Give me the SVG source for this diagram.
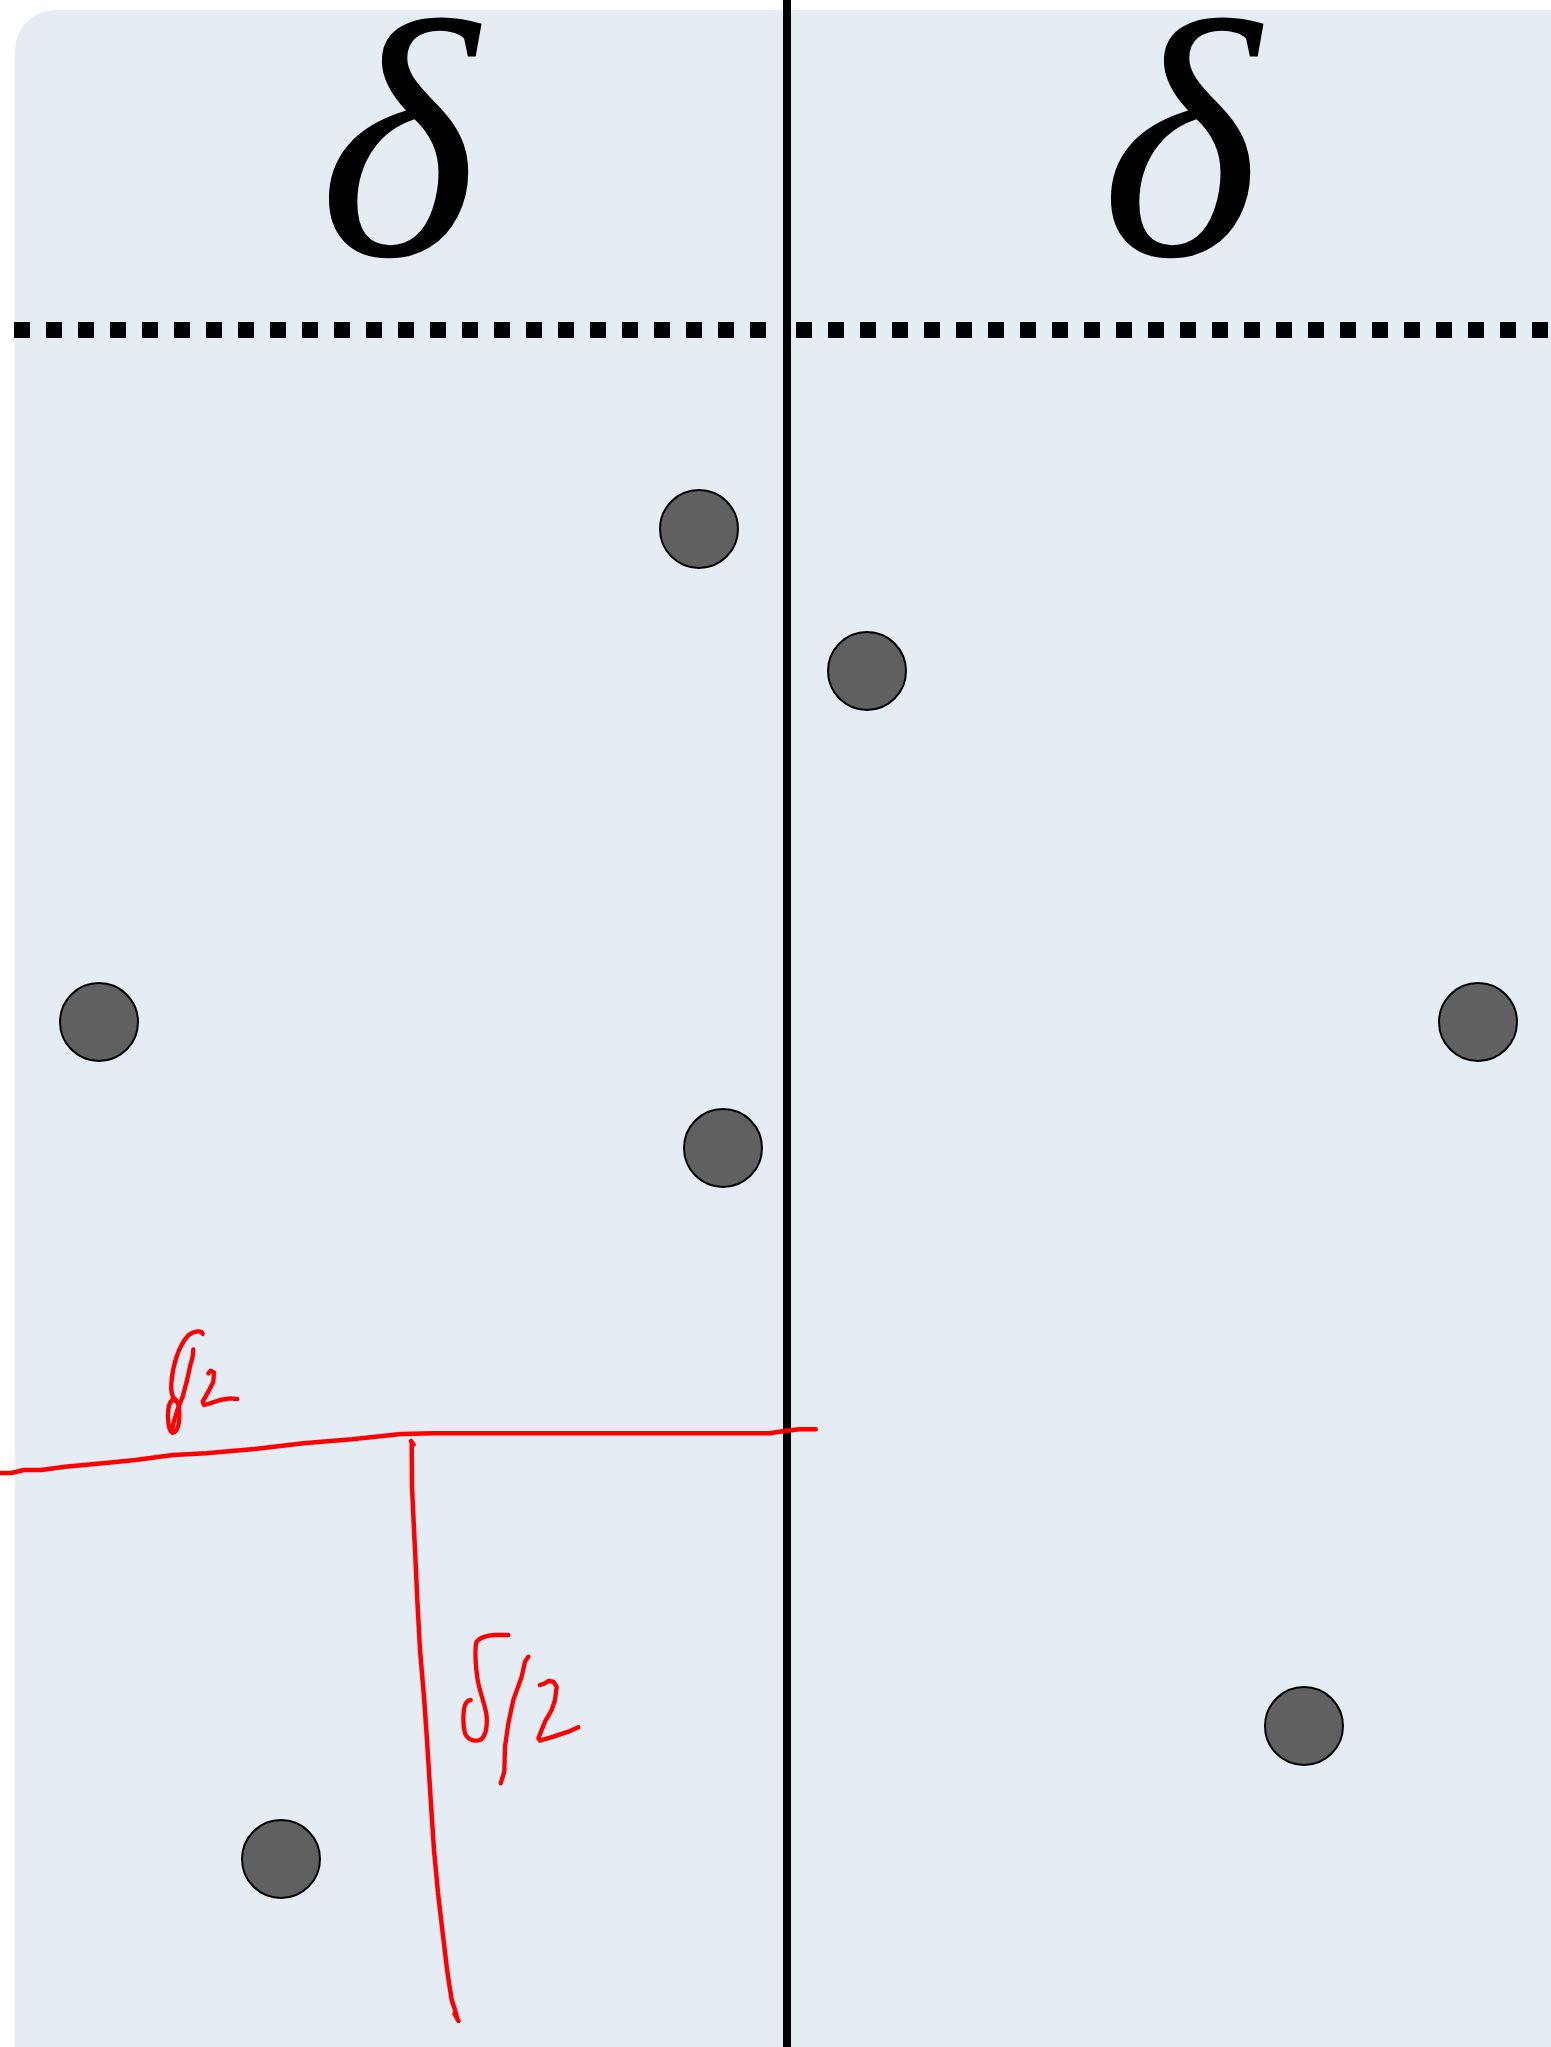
<svg xmlns="http://www.w3.org/2000/svg" width="1551" height="2047" viewBox="0 0 1551 2047">
<style>
.bg{fill:#e5ecf3}
.dot{fill:#606060;stroke:#000;stroke-width:2}
.dash{stroke:#000;stroke-width:16;stroke-dasharray:16 16;fill:none}
.delta{font-family:"Liberation Serif",serif;font-style:italic;font-size:340px;fill:#000}
.ink{fill:none;stroke:#ff0000;stroke-linecap:round;stroke-linejoin:round}
</style>
<rect width="1551" height="2047" fill="#ffffff"/>
<rect class="bg" x="15" y="10" width="1580" height="2100" rx="40" ry="40"/>
<g id="dividers">
<line x1="14" y1="330" x2="782" y2="330" class="dash"/>
<line x1="796" y1="330" x2="1560" y2="330" class="dash"/>
<line x1="787" y1="0" x2="787" y2="2047" stroke="#000" stroke-width="8"/>
</g>
<g id="label-left"><text class="delta" x="398" y="255" text-anchor="middle">δ</text></g>
<g id="label-right"><text class="delta" x="1180" y="255" text-anchor="middle">δ</text></g>
<g id="p1"><circle class="dot" cx="699" cy="529" r="39"/></g>
<g id="p2"><circle class="dot" cx="867" cy="671" r="39"/></g>
<g id="p3"><circle class="dot" cx="99" cy="1022" r="39"/></g>
<g id="p4"><circle class="dot" cx="723" cy="1148" r="39"/></g>
<g id="p5"><circle class="dot" cx="1478" cy="1022" r="39"/></g>
<g id="p6"><circle class="dot" cx="1304" cy="1726" r="39"/></g>
<g id="p7"><circle class="dot" cx="281" cy="1859" r="39"/></g>
<g id="connectors">
<path class="ink" stroke-width="4.5" d="M0,1473 L11,1473 L24,1470 L41,1470 L65,1466.7 L108,1462.7 L135.5,1460 L173,1455 L206,1453.3 L254.7,1449 L303.5,1443.3 L352,1439.3 L401,1434 L433.6,1433.3 L769.6,1433.3 L786,1430.7 L799.5,1429.3 L815.7,1429.3"/>
<path class="ink" stroke-width="4.5" d="M411,1441 L413.5,1444.5 M411.7,1442 L412,1487 L414.5,1540 L415.5,1560 L417.3,1600 L420,1650 L424,1697 L427,1740 L430.7,1800 L434,1850 L438,1893 L442.7,1933 L446.7,1966.7 L449,1983 L451.7,2000 L455,2010 L457.7,2020 M454.5,2014 L458.5,2021"/>
</g>
<g id="note-top" transform="translate(140 1320) scale(0.33333)">
<path class="ink" stroke-width="13" d="M188,42 C186,30 162,32 146,45 C116,75 97,140 94,190 C92,215 98,232 104,242"/>
<path class="ink" stroke-width="13" d="M104,236 C92,240 84,255 84,285 C84,318 90,340 100,338 C114,335 120,305 118,275 C117,255 112,242 104,236"/>
<path class="ink" stroke-width="13" d="M160,88 L158,110 L150,140 L140,185 L128,230 L112,270 L100,310 L97,330"/>
<path class="ink" stroke-width="13" d="M205,160 L212,152 L222,158 L220,185 L205,215 L188,245 L192,255 L210,250 L240,240 L270,235 L292,237"/>
</g>
<g id="note-bottom" transform="translate(380 1600) scale(0.33333)">
<path class="ink" stroke-width="13" d="M385,105 L345,105 C320,106 300,112 290,125 C284,140 286,200 293,240 C300,280 318,320 320,350 C322,385 318,410 300,420 C280,425 262,418 255,400 C248,375 249,335 255,315 C260,305 266,300 272,300"/>
<path class="ink" stroke-width="13" d="M445,170 L435,185 L425,230 L400,300 L385,370 L375,440 L373,515 L362,550"/>
<path class="ink" stroke-width="13" d="M480,255 L495,250 L505,243 L520,245 L530,260 L525,300 L515,330 L495,365 L475,415 L480,422 L520,410 L565,395 L595,382"/>
</g>
</svg>
